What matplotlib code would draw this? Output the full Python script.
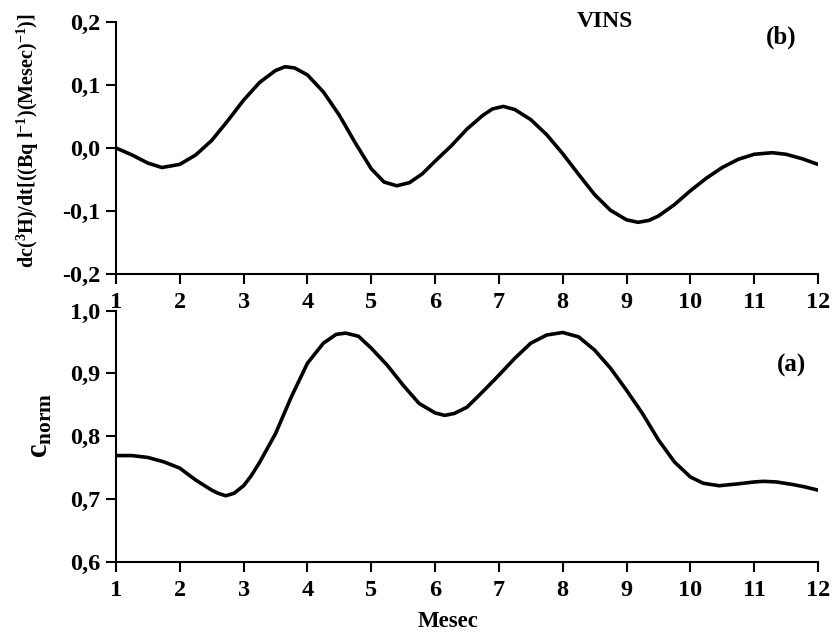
import matplotlib
matplotlib.use("Agg")
import matplotlib.pyplot as plt
from matplotlib.ticker import FuncFormatter

plt.rcParams['font.family'] = ['Liberation Serif', 'DejaVu Serif']
plt.rcParams['font.weight'] = 'bold'
plt.rcParams['axes.labelweight'] = 'bold'
plt.rcParams['mathtext.fontset'] = 'custom'
plt.rcParams['mathtext.rm'] = 'Liberation Serif:bold'
plt.rcParams['mathtext.bf'] = 'Liberation Serif:bold'
plt.rcParams['mathtext.it'] = 'Liberation Serif:bold'

# (b) rate of change of tritium activity
months_b = [1.0, 1.25, 1.5, 1.72, 2.0, 2.25, 2.5, 2.75, 3.0, 3.25, 3.5, 3.65, 3.8,
            4.0, 4.25, 4.5, 4.75, 5.0, 5.2, 5.4, 5.6, 5.8, 6.0, 6.25, 6.5, 6.75, 6.9,
            7.07, 7.25, 7.5, 7.75, 8.0, 8.25, 8.5, 8.75, 9.0, 9.18, 9.35, 9.5, 9.75,
            10.0, 10.25, 10.5, 10.75, 11.0, 11.28, 11.5, 11.75, 12.0]
dcdt = [0.000, -0.011, -0.024, -0.031, -0.026, -0.011, 0.012, 0.043, 0.076, 0.104, 0.123, 0.129, 0.127,
        0.116, 0.089, 0.052, 0.008, -0.033, -0.054, -0.060, -0.055, -0.041, -0.021, 0.003, 0.030, 0.052, 0.062,
        0.066, 0.061, 0.045, 0.021, -0.009, -0.042, -0.074, -0.099, -0.114, -0.118, -0.115, -0.108, -0.090,
        -0.068, -0.048, -0.031, -0.018, -0.010, -0.0075, -0.010, -0.017, -0.026]

# (a) normalised concentration
months_a = [1.0, 1.25, 1.5, 1.75, 2.0, 2.25, 2.5, 2.6, 2.72, 2.85, 3.0, 3.12, 3.25, 3.5, 3.75,
            4.0, 4.25, 4.45, 4.6, 4.8, 5.0, 5.25, 5.5, 5.75, 6.0, 6.15, 6.3, 6.5, 6.75,
            7.0, 7.25, 7.5, 7.75, 8.0, 8.25, 8.5, 8.75, 9.0, 9.25, 9.5, 9.75,
            10.0, 10.2, 10.45, 10.75, 11.0, 11.15, 11.35, 11.6, 11.8, 12.0]
cnorm = [0.769, 0.769, 0.766, 0.759, 0.749, 0.730, 0.714, 0.709, 0.705, 0.709, 0.721, 0.737, 0.758, 0.804, 0.863,
         0.916, 0.948, 0.962, 0.964, 0.959, 0.940, 0.913, 0.881, 0.852, 0.837, 0.833, 0.836, 0.846, 0.871,
         0.897, 0.924, 0.948, 0.961, 0.965, 0.958, 0.937, 0.908, 0.873, 0.836, 0.794, 0.759,
         0.735, 0.725, 0.721, 0.724, 0.727, 0.728, 0.727, 0.723, 0.719, 0.714]

xticks = list(range(1, 13))
top_yticks = [-0.2, -0.1, 0.0, 0.1, 0.2]
bot_yticks = [0.6, 0.7, 0.8, 0.9, 1.0]

comma = FuncFormatter(lambda v, pos: ('%.1f' % v).replace('.', ','))

fig = plt.figure(figsize=(8.35, 6.32), dpi=100)
ax_b = fig.add_axes([0.1389, 0.5665, 0.8407, 0.3987])
ax_a = fig.add_axes([0.1389, 0.1112, 0.8407, 0.3975])


def style(ax):
    for s in ['top', 'right']:
        ax.spines[s].set_visible(False)
    for s in ['left', 'bottom']:
        ax.spines[s].set_linewidth(1.5)
    ax.tick_params(direction='out', length=7, width=1.5, labelsize=17.5, pad=4)
    ax.tick_params(axis='x', pad=6)
    ax.set_xlim(1, 12)
    ax.set_xticks(xticks)
    ax.yaxis.set_major_formatter(comma)
    ax.set_facecolor('none')


ax_b.plot(months_b, dcdt, color='black', linewidth=2.6, solid_joinstyle='round')
style(ax_b)
ax_b.set_ylim(-0.2, 0.2)
ax_b.set_yticks(top_yticks)
ax_b.set_ylabel(r'dc($^{3}$H)/dt[((Bq l$^{-1}$)(Mesec)$^{-1}$)]', fontsize=14.5, va='center')
ax_b.yaxis.set_label_coords(-0.126, 0.528)
ax_b.text(0.697, 1.002, 'VINS', transform=ax_b.transAxes, fontsize=17, ha='center', va='center')
ax_b.text(0.947, 0.94, '(b)', transform=ax_b.transAxes, fontsize=18, ha='center', va='center')

ax_a.plot(months_a, cnorm, color='black', linewidth=2.6, solid_joinstyle='round')
style(ax_a)
ax_a.set_ylim(0.6, 1.0)
ax_a.set_yticks(bot_yticks)
ax_a.set_ylabel(r'c$_{\mathrm{norm}}$', fontsize=22, va='center')
ax_a.yaxis.set_label_coords(-0.108, 0.544)
ax_a.set_xlabel('Mesec', fontsize=16.5, va='center')
ax_a.xaxis.set_label_coords(0.473, -0.236)
ax_a.text(0.962, 0.783, '(a)', transform=ax_a.transAxes, fontsize=18, ha='center', va='center')

fig.savefig('out.png', dpi=100)
